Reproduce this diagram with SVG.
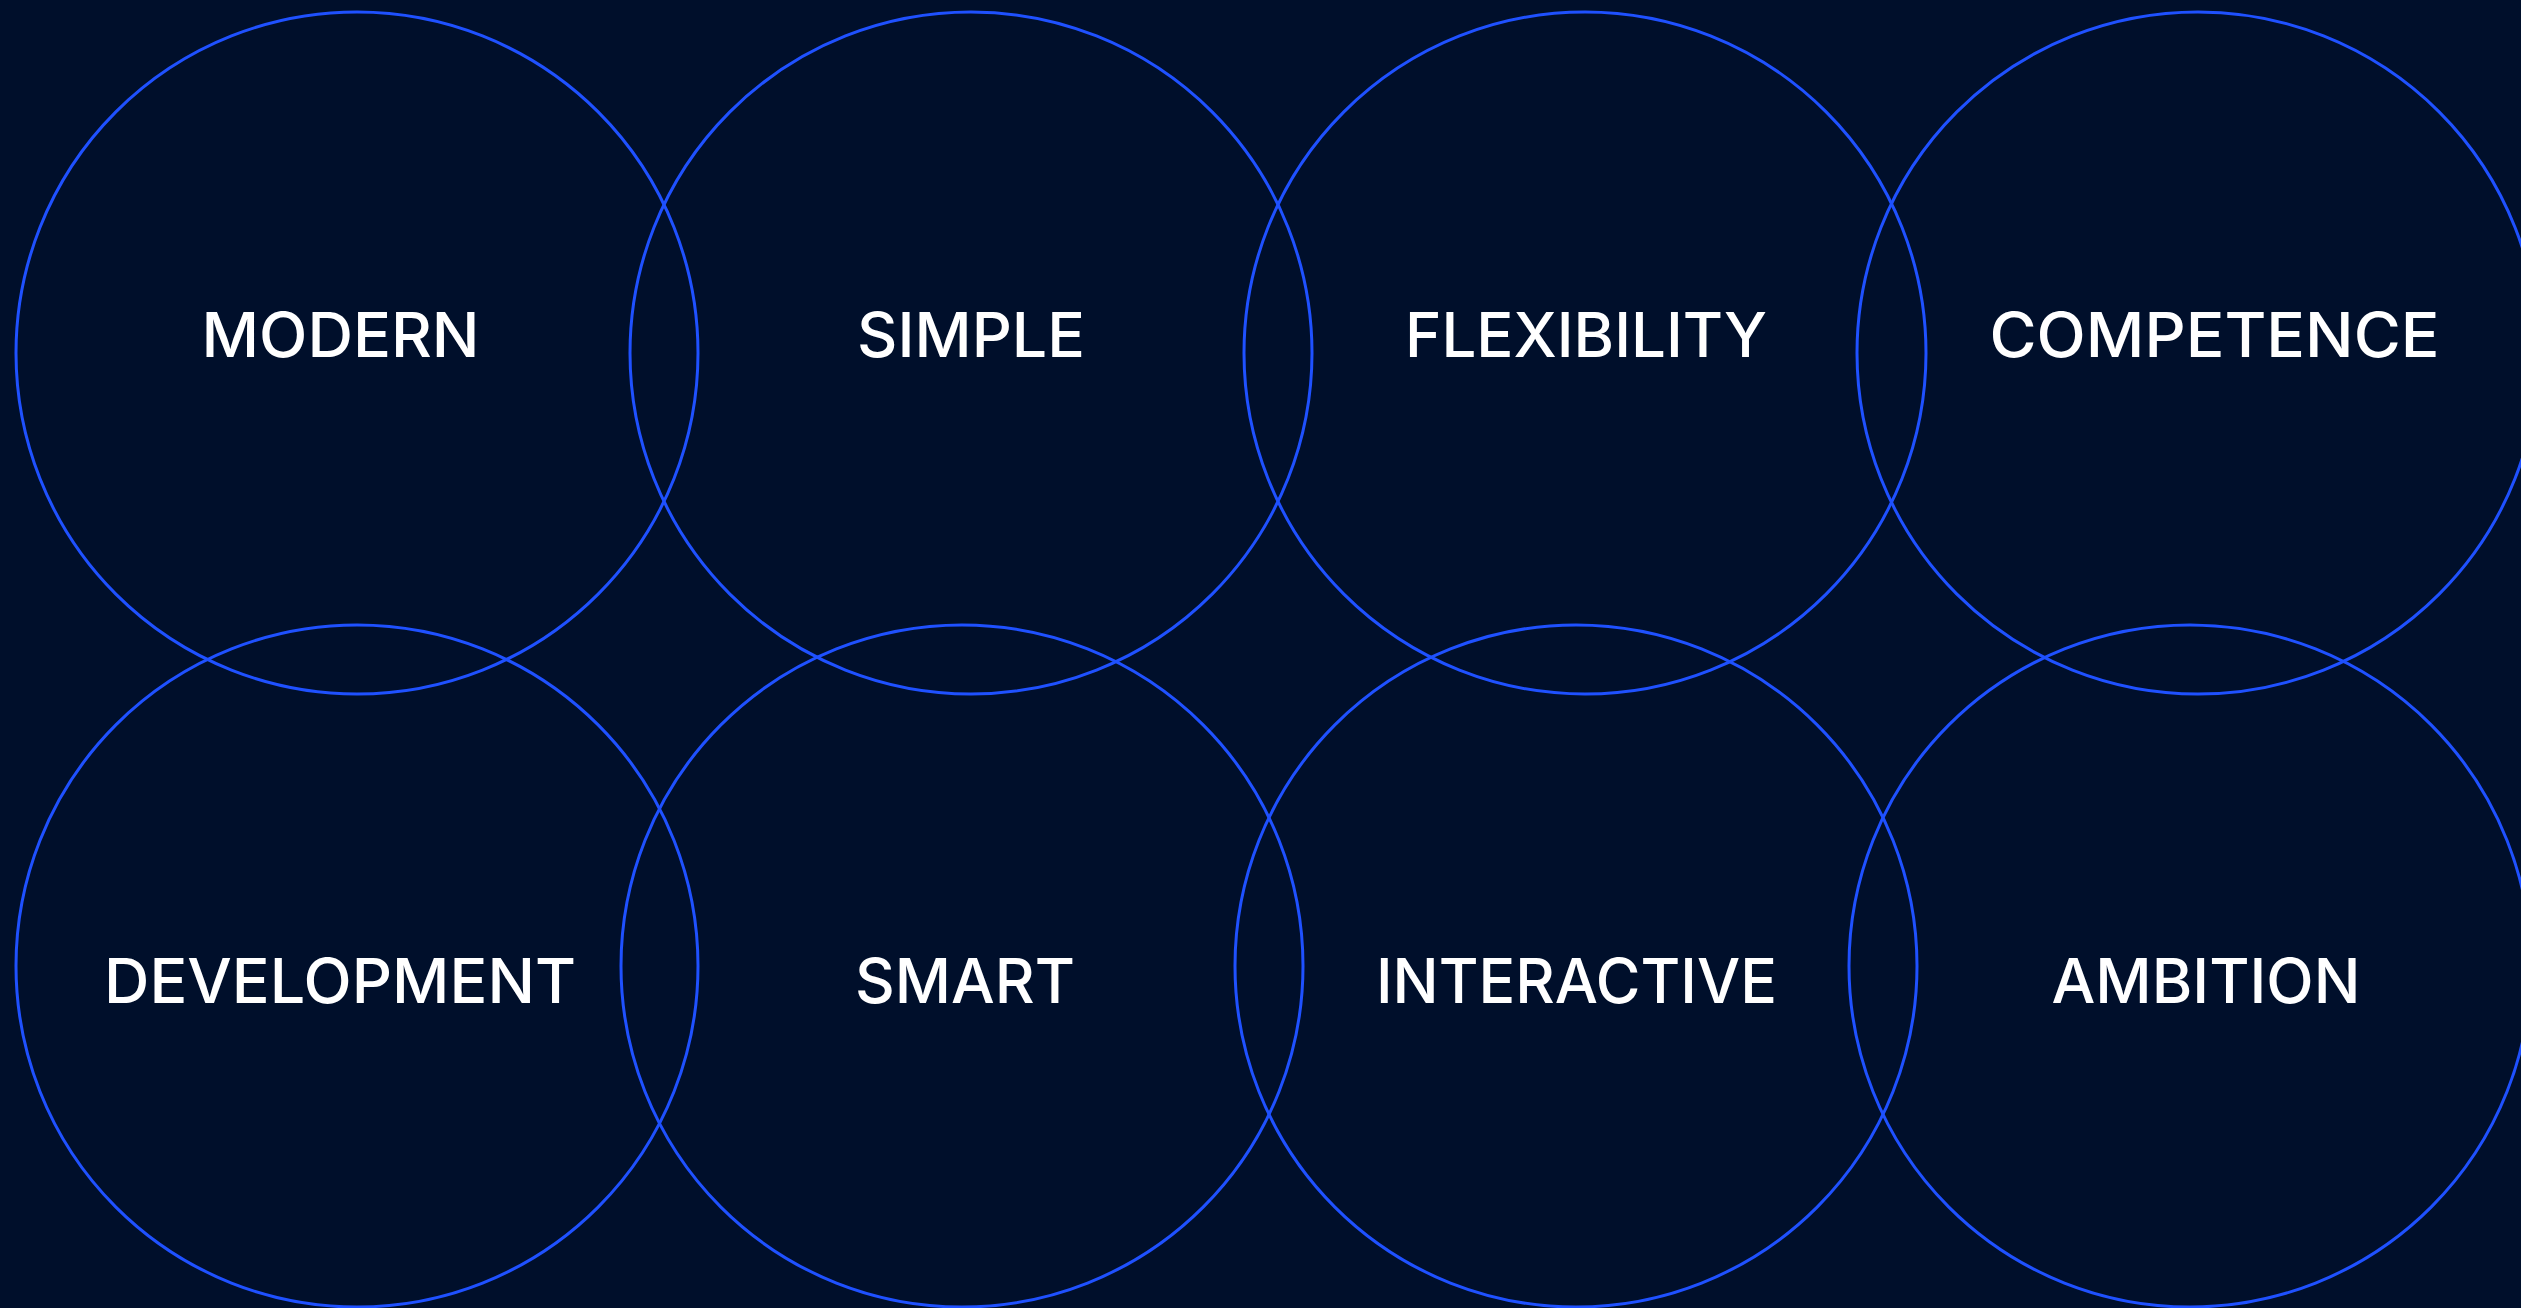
<svg xmlns="http://www.w3.org/2000/svg" width="2521" height="1308" viewBox="0 0 2521 1308">
<style>
.ring{fill:none;stroke:#1F51FF;stroke-width:3}
.lbl{font-family:Inter,"Liberation Sans",sans-serif;font-size:62px;font-weight:500;fill:#FFFFFF;text-anchor:middle}
</style>
<rect width="2521" height="1308" fill="#000F2B"/>
<g id="connectors"></g>
<g id="modern"><circle class="ring" cx="357" cy="353" r="341"/><text class="lbl" x="340.5" y="357" textLength="278" lengthAdjust="spacingAndGlyphs">MODERN</text></g>
<g id="simple"><circle class="ring" cx="971" cy="353" r="341"/><text class="lbl" x="971" y="357" textLength="228" lengthAdjust="spacingAndGlyphs">SIMPLE</text></g>
<g id="flexibility"><circle class="ring" cx="1585" cy="353" r="341"/><text class="lbl" x="1586" y="357" textLength="362" lengthAdjust="spacingAndGlyphs">FLEXIBILITY</text></g>
<g id="competence"><circle class="ring" cx="2198" cy="353" r="341"/><text class="lbl" x="2214.5" y="357" textLength="450" lengthAdjust="spacingAndGlyphs">COMPETENCE</text></g>
<g id="development"><circle class="ring" cx="357" cy="966" r="341"/><text class="lbl" x="340" y="1003" textLength="472" lengthAdjust="spacingAndGlyphs">DEVELOPMENT</text></g>
<g id="smart"><circle class="ring" cx="962" cy="966" r="341"/><text class="lbl" x="965" y="1003" textLength="220" lengthAdjust="spacingAndGlyphs">SMART</text></g>
<g id="interactive"><circle class="ring" cx="1576" cy="966" r="341"/><text class="lbl" x="1576.5" y="1003" textLength="401" lengthAdjust="spacingAndGlyphs">INTERACTIVE</text></g>
<g id="ambition"><circle class="ring" cx="2190" cy="966" r="341"/><text class="lbl" x="2206" y="1003" textLength="309" lengthAdjust="spacingAndGlyphs">AMBITION</text></g>
</svg>
